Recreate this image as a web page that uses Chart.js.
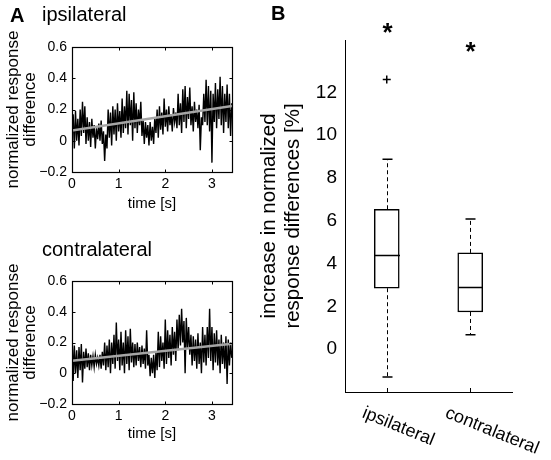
<!DOCTYPE html>
<html>
<head>
<meta charset="utf-8">
<script src="https://cdn.jsdelivr.net/npm/chart.js@4.4.1/dist/chart.umd.min.js"></script>
<style>
  body { margin: 0; background: #fff; width: 551px; height: 460px; overflow: hidden; position: relative;
         font-family: "Liberation Sans", Arial, sans-serif; }
  canvas { position: absolute; }
  .lbl { position: absolute; white-space: nowrap; color: #000; line-height: 1; }
  .panel { font-weight: bold; font-size: 20px; }
  .ttl { font-size: 20px; }
</style>
</head>
<body>
<canvas id="ipsiChart" width="250" height="215" style="left:0;top:0"></canvas>
<canvas id="contraChart" width="250" height="215" style="left:0;top:230px"></canvas>
<canvas id="boxChart" width="301" height="460" style="left:250px;top:0"></canvas>

<div class="lbl panel" style="left:10px;top:5px">A</div>
<div class="lbl ttl" style="left:42px;top:4px">ipsilateral</div>
<div class="lbl ttl" style="left:42px;top:239px">contralateral</div>
<div class="lbl panel" style="left:271px;top:3px">B</div>

<script>
// --- panel A: normalized response difference, one sample every 25 ms ---
const SAMPLE_DT = 0.025;
const ipsiTrace = [
  0.02, 0.17, -0.05, 0.19, 0.0, 0.14,
  -0.03, 0.2, 0.03, 0.25, 0.05, 0.22,
  -0.02, 0.15, 0.0, 0.12, -0.04, 0.14,
  0.02, 0.1, -0.05, 0.08, 0.01, 0.11,
  0.0, 0.13, -0.02, 0.06, -0.13, 0.04,
  -0.05, 0.2, 0.02, 0.18, -0.03, 0.22,
  0.04, 0.2, 0.0, 0.24, 0.06, 0.19,
  0.02, 0.27, 0.05, 0.22, 0.08, 0.32,
  0.04, 0.3, 0.1, 0.26, 0.0, 0.31,
  0.08, 0.24, 0.05, 0.2, 0.1, 0.25,
  0.03, 0.13, -0.02, 0.12, 0.02, 0.1,
  -0.03, 0.12, 0.0, 0.09, -0.02, 0.15,
  0.05, 0.2, 0.02, 0.22, 0.07, 0.18,
  0.04, 0.27, 0.09, 0.2, 0.06, 0.22,
  0.1, 0.17, 0.06, 0.21, 0.12, 0.18,
  0.08, 0.3, 0.1, 0.24, 0.05, 0.33,
  0.12, 0.35, 0.08, 0.28, 0.14, 0.34,
  0.1, 0.22, 0.06, 0.25, 0.12, 0.2,
  0.08, 0.23, -0.06, 0.15, 0.1, 0.3,
  0.12, 0.39, 0.1, 0.35, 0.06, 0.32,
  -0.14, 0.3, 0.12, 0.37, 0.08, 0.33,
  0.14, 0.41, 0.1, 0.35, 0.05, 0.3,
  0.12, 0.36, 0.08, 0.3, 0.03, 0.24
];
const contraTrace = [
  0.28, -0.05, 0.18, 0.0, 0.15, -0.03,
  0.17, 0.02, 0.19, -0.06, 0.14, 0.03,
  0.16, 0.04, 0.13, 0.02, 0.12, 0.05,
  0.11, 0.04, 0.12, 0.06, 0.1, 0.05,
  0.12, 0.03, 0.14, 0.05, 0.2, 0.02,
  0.18, 0.04, 0.22, 0.0, 0.2, 0.06,
  0.25, 0.03, 0.33, 0.08, 0.22, 0.02,
  0.27, 0.05, 0.2, 0.0, 0.28, 0.06,
  0.24, 0.02, 0.29, 0.07, 0.2, 0.04,
  0.19, 0.05, 0.2, 0.08, 0.17, 0.04,
  0.18, 0.06, 0.16, 0.03, 0.28, 0.05,
  0.12, -0.02, 0.1, 0.0, 0.12, -0.03,
  0.14, 0.02, 0.27, 0.04, 0.24, 0.08,
  0.2, 0.03, 0.35, 0.06, 0.28, 0.1,
  0.25, 0.05, 0.3, 0.12, 0.27, 0.08,
  0.35, 0.15, 0.38, 0.18, 0.42, 0.2,
  0.34, 0.0, 0.36, 0.16, 0.3, 0.12,
  0.25, 0.05, 0.24, 0.08, 0.22, 0.03,
  0.26, 0.06, 0.2, 0.0, 0.3, 0.07,
  0.25, 0.05, 0.3, 0.1, 0.42, 0.08,
  0.3, 0.02, 0.26, 0.07, 0.28, 0.05,
  0.22, 0.0, 0.25, 0.06, 0.2, 0.03,
  0.24, -0.07, 0.22, 0.05, 0.2, 0.1
];
// linear fits (start / end of the recording)
const trendTimes = [0, 3.43];
const ipsiTrend = [0.065, 0.222];
const contraTrend = [0.082, 0.192];
const timeTicks = [0, 1, 2, 3];
const diffTicks = [-0.2, 0, 0.2, 0.4, 0.6];

// --- panel B: increase in normalized response differences [%] ---
const groups = ['ipsilateral', 'contralateral'];
const whiskerLow = [-1.3, 0.67];
const quartile1 = [2.85, 1.74];
const medians = [4.38, 2.88];
const quartile3 = [6.54, 4.5];
const whiskerHigh = [8.88, 6.09];
const outliers = [12.6, null];
const sigMarks = [15.1, 14.2];
const percentTicks = [0, 2, 4, 6, 8, 10, 12];

const FONT = '"Liberation Sans", Arial, sans-serif';
Chart.defaults.font.family = FONT;
Chart.defaults.color = '#000';

// box + inward tick marks, matlab style
const framePlugin = {
  id: 'frame',
  afterDatasetsDraw(chart) {
    const {ctx, chartArea: a, scales: {x, y}} = chart;
    const L = Math.round(a.left) + 0.5, R = Math.round(a.right) + 0.5;
    const T = Math.round(a.top) + 0.5, B = Math.round(a.bottom) + 0.5;
    ctx.save();
    ctx.strokeStyle = '#000';
    ctx.lineWidth = 1.2;
    ctx.strokeRect(L, T, R - L, B - T);
    ctx.lineWidth = 1;
    ctx.beginPath();
    x.ticks.forEach(t => {
      const px = Math.round(x.getPixelForValue(t.value)) + 0.5;
      ctx.moveTo(px, B); ctx.lineTo(px, B - 3);
      ctx.moveTo(px, T); ctx.lineTo(px, T + 3);
    });
    y.ticks.forEach(t => {
      const py = Math.round(y.getPixelForValue(t.value)) + 0.5;
      ctx.moveTo(L, py); ctx.lineTo(L + 3, py);
      ctx.moveTo(R, py); ctx.lineTo(R - 3, py);
    });
    ctx.stroke();
    ctx.restore();
  }
};

function fmtDiff(v) {
  if (v === 0) return '0';
  return v.toFixed(1).replace('-', '\u2212');
}

function makeTraceChart(id, trace, trend, padTop, xHeight) {
  return new Chart(document.getElementById(id), {
    type: 'line',
    data: {
      datasets: [
        {
          data: trendTimes.map((t, i) => ({x: t, y: trend[i]})),
          borderColor: 'rgb(165,165,165)', borderWidth: 2.5, pointRadius: 0
        },
        {
          data: trace.map((v, i) => ({x: i * SAMPLE_DT, y: v})),
          borderColor: '#000', borderWidth: 1.4, pointRadius: 0, tension: 0
        }
      ]
    },
    options: {
      responsive: false,
      animation: false,
      events: [],
      layout: { padding: { top: padTop, right: 18, bottom: 0, left: 0 } },
      plugins: { legend: { display: false }, tooltip: { enabled: false } },
      scales: {
        x: {
          type: 'linear', min: 0, max: 3.43,
          afterBuildTicks: s => { s.ticks = timeTicks.map(v => ({value: v})); },
          afterFit: s => { s.height = xHeight; },
          grid: { display: false, drawTicks: false },
          border: { display: false },
          ticks: { font: { size: 14 }, padding: 4, maxRotation: 0 },
          title: { display: true, text: 'time [s]', font: { size: 15, lineHeight: 1.2 }, padding: { top: 0, bottom: 2 } }
        },
        y: {
          min: -0.2, max: 0.6,
          afterBuildTicks: s => { s.ticks = diffTicks.map(v => ({value: v})); },
          afterFit: s => { s.width = 72; },
          grid: { display: false, drawTicks: false },
          border: { display: false },
          ticks: { font: { size: 14 }, padding: 5, callback: fmtDiff },
          title: {
            display: true, text: ['normalized response', 'difference'],
            font: { size: 17, lineHeight: 1.05 }, padding: { top: 4, bottom: 0 }
          }
        }
      }
    },
    plugins: [framePlugin]
  });
}

makeTraceChart('ipsiChart', ipsiTrace, ipsiTrend, 47, 43);
makeTraceChart('contraChart', contraTrace, contraTrend, 51, 41);

// whiskers, medians, caps, asterisks and slanted group names
const boxPlugin = {
  id: 'boxDetails',
  afterDatasetsDraw(chart) {
    const {ctx, chartArea: a, scales: {x, y}} = chart;
    const bars = chart.getDatasetMeta(1).data;
    ctx.save();
    ctx.strokeStyle = '#000';
    ctx.fillStyle = '#000';
    groups.forEach((g, i) => {
      const cx = Math.round(x.getPixelForValue(i)) + 0.5;
      const half = bars[i].width / 2;

      ctx.setLineDash([4, 3]);
      ctx.lineWidth = 1;
      ctx.beginPath();
      ctx.moveTo(cx, y.getPixelForValue(quartile3[i]));
      ctx.lineTo(cx, y.getPixelForValue(whiskerHigh[i]));
      ctx.moveTo(cx, y.getPixelForValue(quartile1[i]));
      ctx.lineTo(cx, y.getPixelForValue(whiskerLow[i]));
      ctx.stroke();

      ctx.setLineDash([]);
      ctx.lineWidth = 1.5;
      ctx.beginPath();
      [whiskerHigh[i], whiskerLow[i]].forEach(v => {
        const py = y.getPixelForValue(v);
        ctx.moveTo(cx - 5, py); ctx.lineTo(cx + 5, py);
      });
      const pm = y.getPixelForValue(medians[i]);
      ctx.moveTo(cx - half, pm); ctx.lineTo(cx + half, pm);
      ctx.stroke();

      ctx.lineWidth = 1;
      ctx.beginPath();
      ctx.moveTo(cx, a.bottom); ctx.lineTo(cx, a.bottom - 4);
      ctx.stroke();

      ctx.font = 'bold 26px ' + FONT;
      ctx.textAlign = 'center';
      ctx.textBaseline = 'alphabetic';
      ctx.fillText('*', cx, y.getPixelForValue(sigMarks[i]) + 15);

      ctx.save();
      ctx.translate(cx - 21, a.bottom + 12);
      ctx.rotate(22 * Math.PI / 180);
      ctx.font = '18px ' + FONT;
      ctx.textAlign = 'left';
      ctx.textBaseline = 'top';
      ctx.fillText(g, 0, 0);
      ctx.restore();
    });
    ctx.restore();
  }
};

new Chart(document.getElementById('boxChart'), {
  type: 'bar',
  data: {
    labels: groups,
    datasets: [
      {
        type: 'line', data: outliers, showLine: false,
        pointStyle: 'cross', pointRadius: 4, borderColor: '#000', borderWidth: 1.5
      },
      {
        data: groups.map((g, i) => [quartile1[i], quartile3[i]]),
        backgroundColor: '#fff', borderColor: '#000', borderWidth: 1.5,
        borderSkipped: false, barThickness: 25
      }
    ]
  },
  options: {
    responsive: false,
    animation: false,
    events: [],
    layout: { padding: { top: 40, right: 39, bottom: 0, left: 0 } },
    plugins: { legend: { display: false }, tooltip: { enabled: false } },
    scales: {
      x: {
        afterFit: s => { s.height = 68; },
        grid: { display: false, drawTicks: false },
        border: { display: true, color: '#000', width: 1 },
        ticks: { display: false }
      },
      y: {
        min: -2, max: 14.45,
        afterBuildTicks: s => { s.ticks = percentTicks.map(v => ({value: v})); },
        afterFit: s => { s.width = 95; },
        grid: { display: false, drawTicks: false },
        border: { display: true, color: '#000', width: 1 },
        ticks: { font: { size: 19 }, padding: 8 },
        title: {
          display: true, text: ['increase in normalized', 'response differences [%]'],
          font: { size: 20.5, lineHeight: 1.17 }, padding: { top: 7, bottom: 0 }
        }
      }
    }
  },
  plugins: [boxPlugin]
});
</script>
</body>
</html>
